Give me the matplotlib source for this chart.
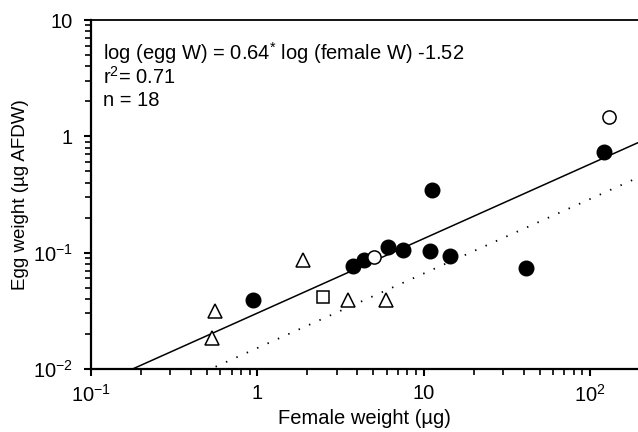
import numpy as np
import matplotlib
matplotlib.use("Agg")
import matplotlib.pyplot as plt
from matplotlib.ticker import FixedLocator, FixedFormatter, LogLocator, NullFormatter

plt.rcParams['font.family'] = ['Liberation Sans', 'DejaVu Sans']
plt.rcParams['mathtext.fontset'] = 'custom'
plt.rcParams['mathtext.rm'] = 'Liberation Sans'
plt.rcParams['mathtext.default'] = 'regular'

# data (female weight ug, egg weight ug AFDW)
filled_x = [0.945, 3.76, 4.37, 6.11, 7.52, 11.2, 11.0, 14.5, 41.6, 122]
filled_y = [0.0394, 0.0773, 0.0871, 0.1127, 0.106, 0.348, 0.104, 0.094, 0.0733, 0.728]
open_x = [5.01, 131]
open_y = [0.0912, 1.47]
tri_x = [0.556, 0.536, 1.88, 3.51, 5.97]
tri_y = [0.0316, 0.0184, 0.0871, 0.0394, 0.0394]
sq_x = [2.48]
sq_y = [0.0412]

# regression: log(eggW) = slope*log(femaleW) + icpt
slope = 0.64
icpt = -1.52
icpt_dot = -1.82

xticks = [0.1, 1, 10, 100]
xticklabels = ['$10^{-1}$', '1', '10', '$10^{2}$']
yticks = [0.01, 0.1, 1, 10]
yticklabels = ['$10^{-2}$', '$10^{-1}$', '1', '10']

fig = plt.figure(figsize=(6.38, 4.32), dpi=100)
ax = fig.add_axes([91/638, 1-369/432, 1-91/638, (369-20)/432])

xmin, xmax = 0.1, 10**2.29
ax.set_xscale('log')
ax.set_yscale('log')
ax.set_xlim(xmin, xmax)
ax.set_ylim(0.01, 10)

xx = np.logspace(-1, 2.29, 200)
ax.plot(xx, 10**(slope*np.log10(xx) + icpt), color='black', lw=1.1)
ax.plot(xx, 10**(slope*np.log10(xx) + icpt_dot), color='black', lw=1.3,
        linestyle=(0, (0.8, 5.5)))

ax.plot(filled_x, filled_y, 'o', color='black', ms=10.5, ls='none')
ax.plot(open_x, open_y, 'o', mfc='white', mec='black', mew=1.1, ms=9.5, ls='none')
ax.plot(tri_x, tri_y, '^', mfc='white', mec='black', mew=1.1, ms=9.5, ls='none')
ax.plot(sq_x, sq_y, 's', mfc='white', mec='black', mew=1.1, ms=8, ls='none')

ax.xaxis.set_major_locator(FixedLocator(xticks))
ax.xaxis.set_major_formatter(FixedFormatter(xticklabels))
ax.yaxis.set_major_locator(FixedLocator(yticks))
ax.yaxis.set_major_formatter(FixedFormatter(yticklabels))
ax.xaxis.set_minor_locator(LogLocator(base=10, subs=np.arange(2, 10)))
ax.yaxis.set_minor_locator(LogLocator(base=10, subs=np.arange(2, 10)))
ax.xaxis.set_minor_formatter(NullFormatter())
ax.yaxis.set_minor_formatter(NullFormatter())

ax.tick_params(which='major', direction='out', length=5, width=1.5, labelsize=14.5)
ax.tick_params(axis='y', which='major', pad=8)
ax.tick_params(axis='x', which='major', pad=6)
ax.tick_params(which='minor', direction='out', length=4, width=1.2)
ax.tick_params(top=False, right=False)

ax.spines['left'].set_linewidth(1.6)
ax.spines['bottom'].set_linewidth(1.6)
ax.spines['top'].set_linewidth(1.3)
ax.spines['right'].set_visible(False)

ax.set_xlabel('Female weight (\u00b5g)', fontsize=14.5, labelpad=2)
ax.set_ylabel('Egg weight (\u00b5g AFDW)', fontsize=13.5, labelpad=3)

ax.text(0.022, 0.905, 'log (egg W) = 0.64$^{*}$ log (female W) -1.52', transform=ax.transAxes,
        fontsize=14.5, va='center')
ax.text(0.022, 0.838, 'r$^{2}$= 0.71', transform=ax.transAxes, fontsize=14.5, va='center')
ax.text(0.022, 0.77, 'n = 18', transform=ax.transAxes, fontsize=14.5, va='center')

fig.savefig('out.png', dpi=100)
